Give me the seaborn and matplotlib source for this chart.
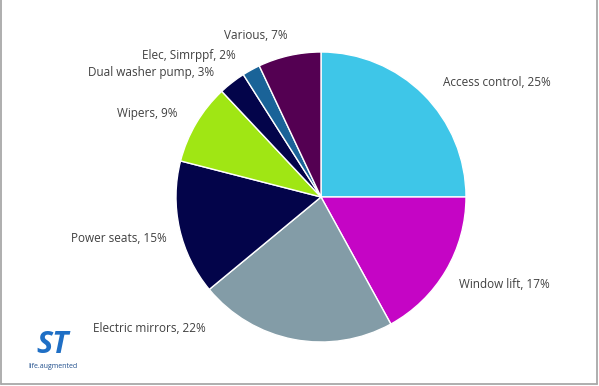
import matplotlib
matplotlib.use("Agg")
import matplotlib.pyplot as plt
import seaborn as sns

# data, read clockwise from 12 o'clock
categories = ['Access control', 'Window lift', 'Electric mirrors', 'Power seats',
              'Wipers', 'Dual washer pump', 'Elec, Simrppf', 'Various']
shares = [25, 17, 22, 15, 9, 3, 2, 7]
colors = ['#3EC6E8', '#C505C5', '#839CA7', '#03044A',
          '#A0E614', '#03044A', '#1A6398', '#540052']

# label anchors (figure fraction), placed by hand like the original
label_pos = [(0.830, 0.787), (0.842, 0.264), (0.250, 0.148), (0.198, 0.383),
             (0.245, 0.707), (0.253, 0.811), (0.316, 0.855), (0.427, 0.909)]

sns.set_theme(style="white")
plt.rcParams['font.family'] = ['Open Sans', 'DejaVu Sans']

fig = plt.figure(figsize=(5.99, 3.86), dpi=100)
ax = fig.add_axes([0, 0, 1, 1])

ax.pie(shares, colors=colors, startangle=90, counterclock=False,
       center=(321, 189), radius=145, frame=True,
       wedgeprops=dict(edgecolor='white', linewidth=1.0))
ax.set_xlim(0, 599)
ax.set_ylim(0, 386)
ax.set_aspect('equal')
ax.axis('off')

for cat, val, (x, y) in zip(categories, shares, label_pos):
    fig.text(x, y, f"{cat}, {val}%", ha='center', va='center',
             fontsize=8.5, color='#404040')

# frame on left / right / bottom
frame_c = '#a8a8a8'
fig.add_artist(plt.Line2D([0.002, 0.002], [0.005, 1], color=frame_c, lw=1.3))
fig.add_artist(plt.Line2D([0.997, 0.997], [0.005, 1], color=frame_c, lw=1.3))
fig.add_artist(plt.Line2D([0.002, 0.997], [0.005, 0.005], color=frame_c, lw=1.3))

# ST logo (approximation)
fig.text(0.088, 0.105, "ST", fontsize=22, fontweight='bold', style='italic',
         color='#1F6FC5', ha='center', va='center')
fig.text(0.088, 0.050, "life.augmented", fontsize=5, color='#1F4E8C',
         ha='center', va='center')

fig.savefig("out.png", dpi=100)
